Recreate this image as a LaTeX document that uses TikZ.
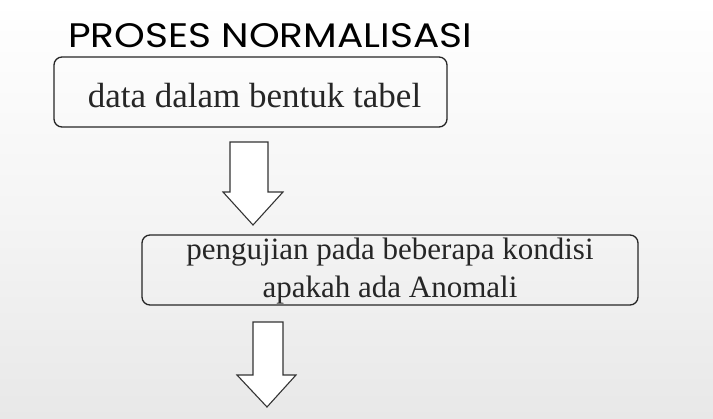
\documentclass[tikz,border=0pt]{standalone}
\usepackage{fontspec}
\setmainfont{Liberation Serif}
\newfontfamily\titlefont{Poppins}
\begin{document}
\begin{tikzpicture}[x=1pt,y=-1pt,
  boxstyle/.style={draw=black!85, line width=1.3pt, rounded corners=8pt, inner sep=0pt},
  blockarrow/.style={draw=black!80, line width=1.1pt, fill=white, line join=miter},
  txt/.style={inner sep=0pt, text=black!85}]
\shade[top color=white, bottom color=black!9, middle color=white!96!black] (0,0) rectangle (713,419);
\useasboundingbox (0,0) rectangle (713,419);
\node[txt, text=black, anchor=base west, font=\titlefont\fontsize{34}{34}\selectfont] (title) at (68,48) {\scalebox{1.15}[1]{PROSES NORMALISASI}};
\node[boxstyle, minimum width=393pt, minimum height=70pt] (b1) at (250.5,92) {};
\node[txt, anchor=base, font=\fontsize{35}{38}\selectfont] (t1) at (254.5,108) {data dalam bentuk tabel};
\node[boxstyle, minimum width=496pt, minimum height=70pt] (b2) at (390,270) {};
\node[txt, anchor=base, font=\fontsize{31}{38}\selectfont] (t2a) at (390,260) {pengujian pada beberapa kondisi};
\node[txt, anchor=base, font=\fontsize{31}{38}\selectfont] (t2b) at (390,298) {apakah ada Anomali};
\draw[blockarrow] (230,142) -- (268,142) -- (268,192) -- (283,192) -- (253,225) -- (223,192) -- (230,192) -- cycle;
\draw[blockarrow] (253,322) -- (283,322) -- (283,375) -- (296,375) -- (267,407) -- (237,375) -- (253,375) -- cycle;
\end{tikzpicture}
\end{document}
